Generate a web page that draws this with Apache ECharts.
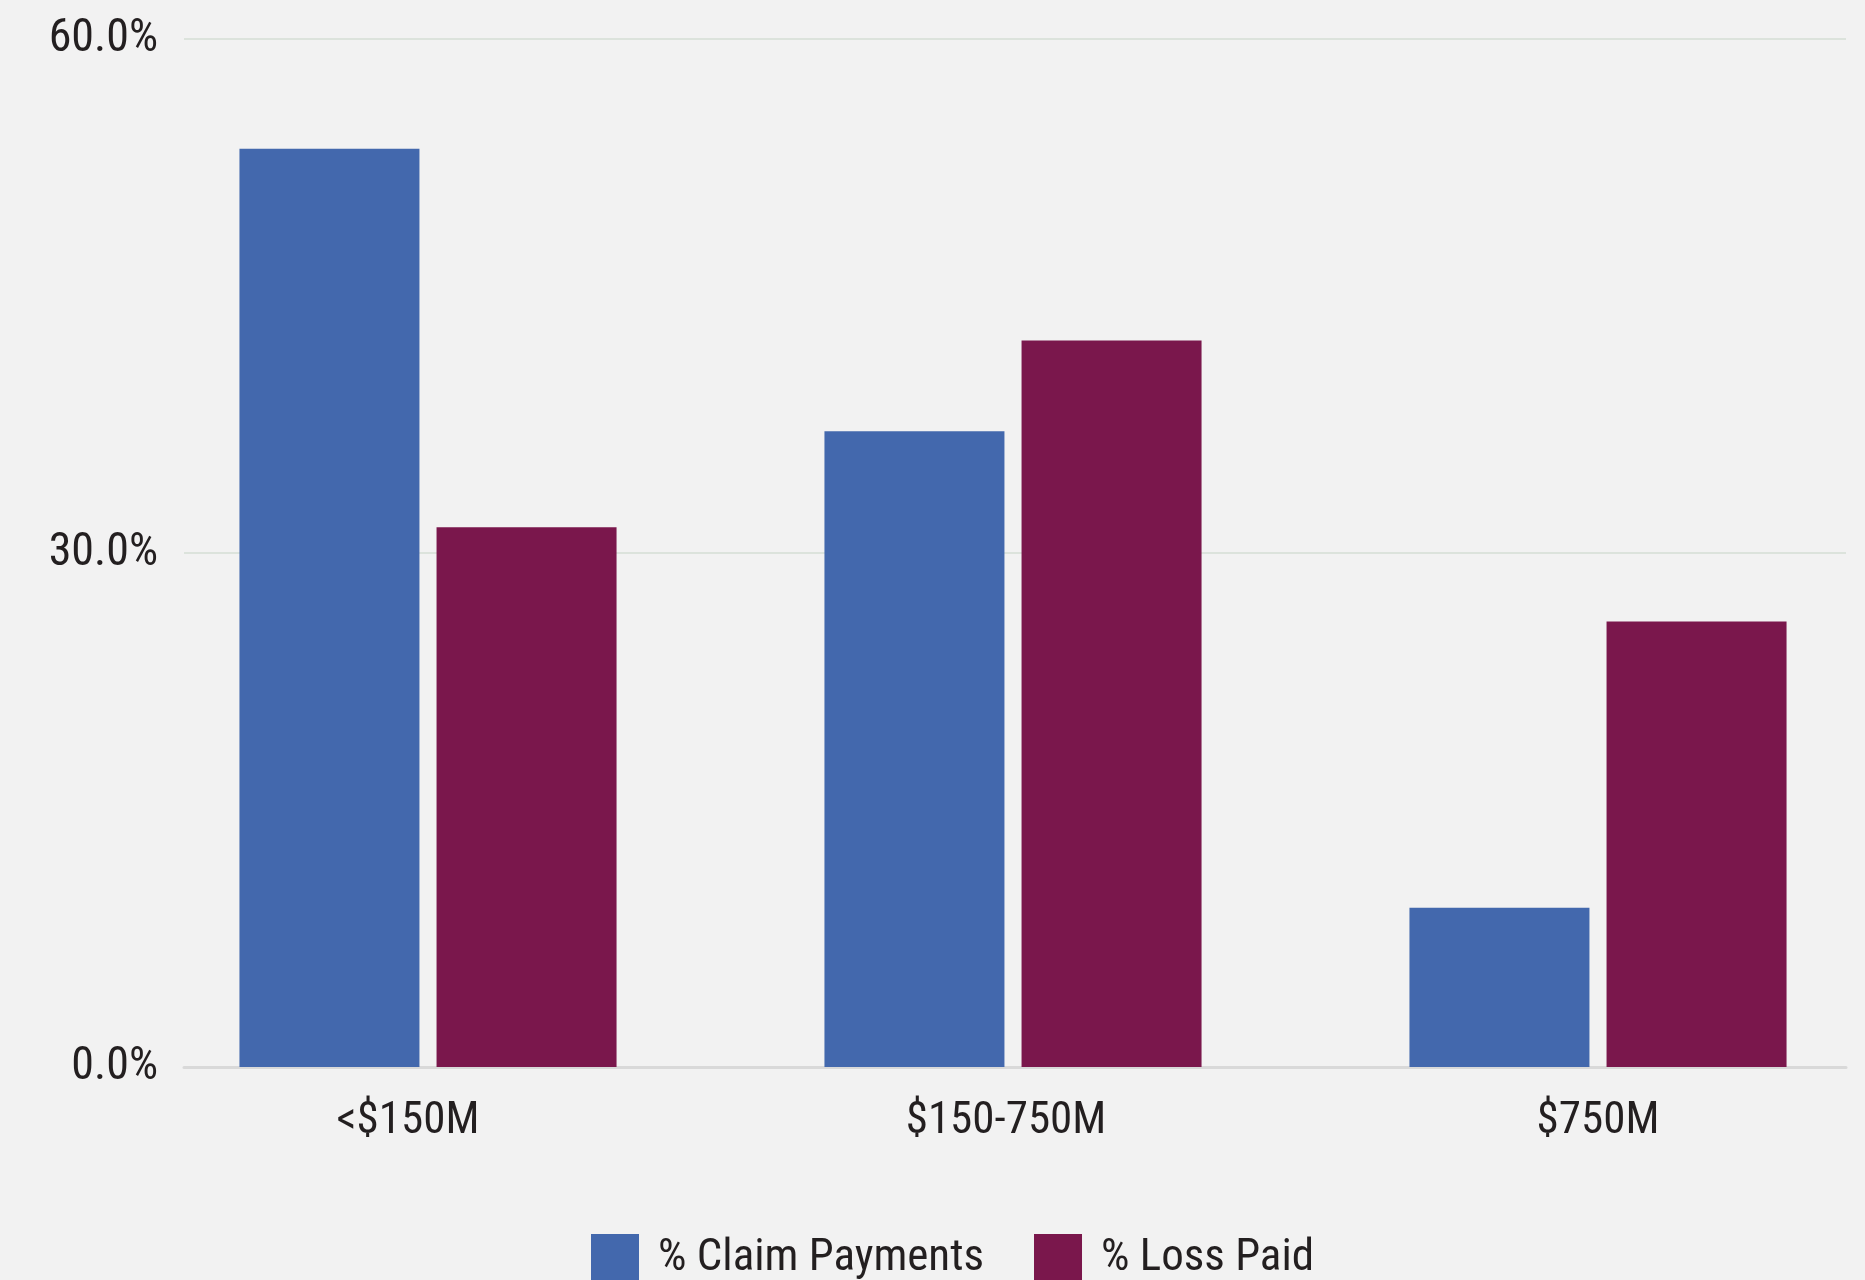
<!DOCTYPE html>
<html><head><meta charset="utf-8">
<script src="https://cdn.jsdelivr.net/npm/echarts@6/dist/echarts.min.js"></script>
<style>html,body{margin:0;padding:0;background:#f2f2f2}#c{width:1865px;height:1280px}</style>
</head><body><div id="c"></div>
<script>
const categories = ['<$150M', '$150-750M', '$750M'];
const claimPayments = [53.6, 37.1, 9.3];
const lossPaid = [31.5, 42.4, 26.0];
const seriesNames = ['% Claim Payments', '% Loss Paid'];
const yTicks = [0, 30, 60];

const FONT = '"Liberation Sans Narrow", "Roboto Condensed", "DejaVu Sans Condensed", sans-serif';
const TXT = '#231f20';
const labStyle = {fontFamily: FONT, fontSize: 45, color: TXT};
const chart = echarts.init(document.getElementById('c'), null, {renderer: 'canvas'});
chart.setOption({
  backgroundColor: '#f2f2f2',
  animation: false,
  textStyle: {fontFamily: FONT},
  grid: [
    {left: 135.5, width: 1755, top: 39, bottom: 213, outerBoundsMode: 'none', containLabel: false},
    {left: 184, right: 19, top: 39, bottom: 213, outerBoundsMode: 'none', containLabel: false}
  ],
  legend: {
    data: seriesNames,
    top: 1229, left: 586,
    itemWidth: 48, itemHeight: 50, itemGap: 50,
    icon: 'rect',
    textStyle: {fontFamily: FONT, fontSize: 45, color: TXT, padding: [0, 0, 0, 14], lineHeight: 50}
  },
  xAxis: [
    {type: 'category', gridIndex: 0, data: categories,
     axisLine: {show: false}, axisTick: {show: false},
     axisLabel: {margin: 32,
       formatter: (v, i) => '{l' + i + '|' + v + '}',
       rich: {
         l0: Object.assign({padding: [0, 40, 0, 0]}, labStyle),
         l1: Object.assign({padding: [0, 14, 0, 0]}, labStyle),
         l2: Object.assign({padding: [0, 0, 0, 0]}, labStyle)
       }}},
    {type: 'category', gridIndex: 1, data: categories,
     axisLine: {show: true, lineStyle: {color: '#d9d9d9', width: 3}},
     axisTick: {show: false}, axisLabel: {show: false}}
  ],
  yAxis: [
    {type: 'value', gridIndex: 0, min: 0, max: 60, interval: 30, show: false, splitLine: {show: false}},
    {type: 'value', gridIndex: 1, min: yTicks[0], max: yTicks[2], interval: 30,
     axisLine: {show: false}, axisTick: {show: false},
     splitLine: {show: true, lineStyle: {color: '#dce3dc', width: 2}},
     axisLabel: {fontFamily: FONT, fontSize: 46, color: TXT, margin: 26,
       formatter: v => v.toFixed(1) + '%'}}
  ],
  series: [
    {name: seriesNames[0], type: 'bar', xAxisIndex: 0, yAxisIndex: 0, data: claimPayments,
     barWidth: 180, barGap: '9.5%', itemStyle: {color: '#4368ad'}, z: 3},
    {name: seriesNames[1], type: 'bar', xAxisIndex: 0, yAxisIndex: 0, data: lossPaid,
     barWidth: 180, barGap: '9.5%', itemStyle: {color: '#7a174c'}, z: 3}
  ]
});
</script></body></html>
